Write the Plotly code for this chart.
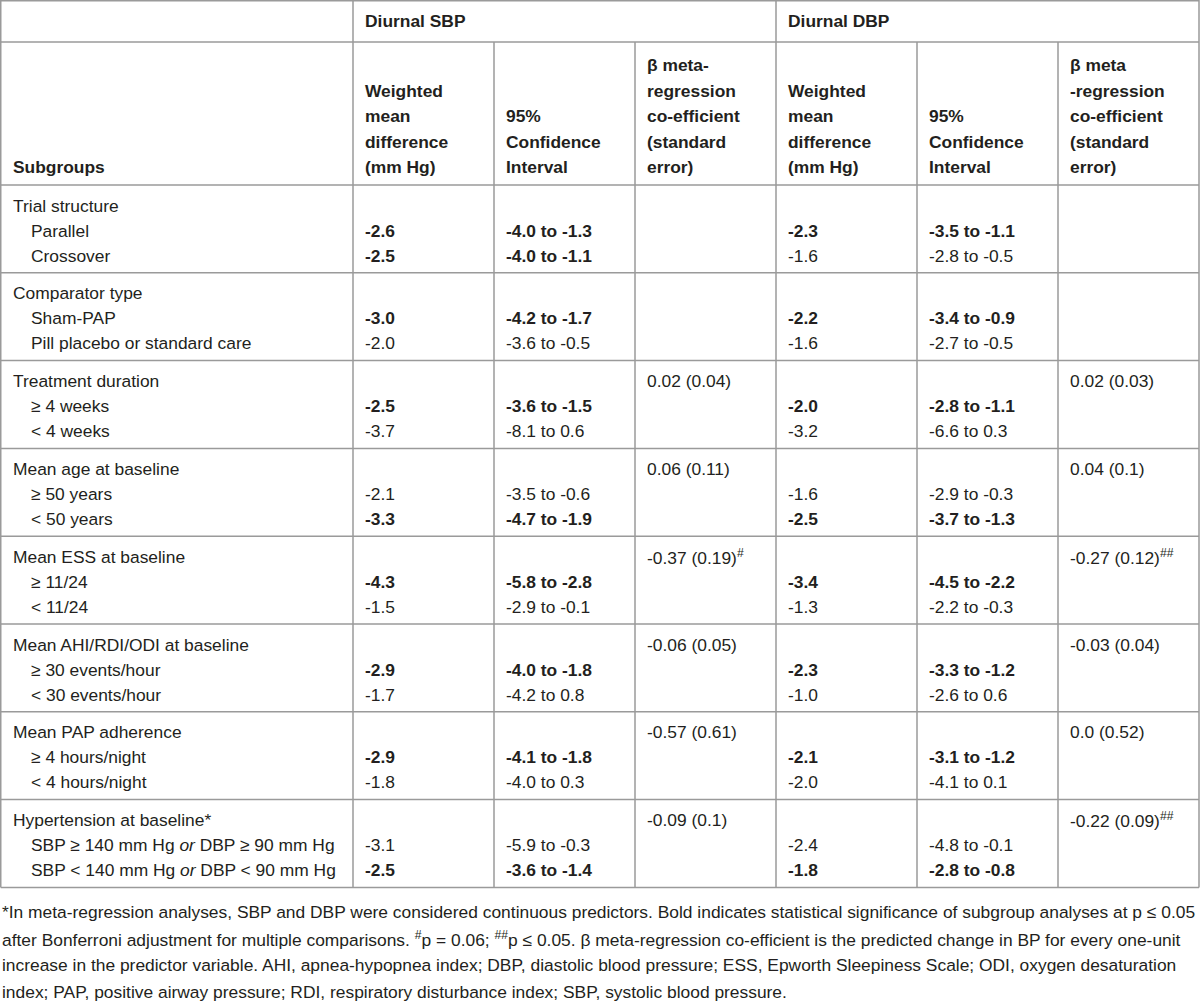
import plotly.graph_objects as go

# --- table data -------------------------------------------------------------
groups = ["Trial structure", "Comparator type", "Treatment duration",
          "Mean age at baseline", "Mean ESS at baseline",
          "Mean AHI/RDI/ODI at baseline", "Mean PAP adherence",
          "Hypertension at baseline*"]
subgroups = [
    ["Parallel", "Crossover"],
    ["Sham-PAP", "Pill placebo or standard care"],
    ["≥ 4 weeks", "&lt; 4 weeks"],
    ["≥ 50 years", "&lt; 50 years"],
    ["≥ 11/24", "&lt; 11/24"],
    ["≥ 30 events/hour", "&lt; 30 events/hour"],
    ["≥ 4 hours/night", "&lt; 4 hours/night"],
    ["SBP ≥ 140 mm Hg <i>or</i> DBP ≥ 90 mm Hg",
     "SBP &lt; 140 mm Hg <i>or</i> DBP &lt; 90 mm Hg"],
]

sbp_wmd = ["-2.6", "-2.5", "-3.0", "-2.0", "-2.5", "-3.7", "-2.1", "-3.3",
           "-4.3", "-1.5", "-2.9", "-1.7", "-2.9", "-1.8", "-3.1", "-2.5"]
sbp_ci = ["-4.0 to -1.3", "-4.0 to -1.1", "-4.2 to -1.7", "-3.6 to -0.5",
          "-3.6 to -1.5", "-8.1 to 0.6", "-3.5 to -0.6", "-4.7 to -1.9",
          "-5.8 to -2.8", "-2.9 to -0.1", "-4.0 to -1.8", "-4.2 to 0.8",
          "-4.1 to -1.8", "-4.0 to 0.3", "-5.9 to -0.3", "-3.6 to -1.4"]
sbp_bold = [1, 1, 1, 0, 1, 0, 0, 1, 1, 0, 1, 0, 1, 0, 0, 1]
sbp_beta = ["", "", "0.02 (0.04)", "0.06 (0.11)", "-0.37 (0.19)<sup>#</sup>",
            "-0.06 (0.05)", "-0.57 (0.61)", "-0.09 (0.1)"]

dbp_wmd = ["-2.3", "-1.6", "-2.2", "-1.6", "-2.0", "-3.2", "-1.6", "-2.5",
           "-3.4", "-1.3", "-2.3", "-1.0", "-2.1", "-2.0", "-2.4", "-1.8"]
dbp_ci = ["-3.5 to -1.1", "-2.8 to -0.5", "-3.4 to -0.9", "-2.7 to -0.5",
          "-2.8 to -1.1", "-6.6 to 0.3", "-2.9 to -0.3", "-3.7 to -1.3",
          "-4.5 to -2.2", "-2.2 to -0.3", "-3.3 to -1.2", "-2.6 to 0.6",
          "-3.1 to -1.2", "-4.1 to 0.1", "-4.8 to -0.1", "-2.8 to -0.8"]
dbp_bold = [1, 0, 1, 0, 1, 0, 0, 1, 1, 0, 1, 0, 1, 0, 0, 1]
dbp_beta = ["", "", "0.02 (0.03)", "0.04 (0.1)", "-0.27 (0.12)<sup>##</sup>",
            "-0.03 (0.04)", "0.0 (0.52)", "-0.22 (0.09)<sup>##</sup>"]

top_headers = ["Diurnal SBP", "Diurnal DBP"]
col_headers = [
    ["Subgroups"],
    ["Weighted", "mean", "difference", "(mm Hg)"],
    ["95%", "Confidence", "Interval"],
    ["β meta-", "regression", "co-efficient", "(standard", "error)"],
    ["Weighted", "mean", "difference", "(mm Hg)"],
    ["95%", "Confidence", "Interval"],
    ["β meta", "-regression", "co-efficient", "(standard", "error)"],
]

footnote = [
    "*In meta-regression analyses, SBP and DBP were considered continuous predictors. "
    "Bold indicates statistical significance of subgroup analyses at p ≤ 0.05",
    "after Bonferroni adjustment for multiple comparisons. <sup>#</sup>p = 0.06; "
    "<sup>##</sup>p ≤ 0.05. β meta-regression co-efficient is the predicted change in BP for every one-unit",
    "increase in the predictor variable. AHI, apnea-hypopnea index; DBP, diastolic blood "
    "pressure; ESS, Epworth Sleepiness Scale; ODI, oxygen desaturation",
    "index; PAP, positive airway pressure; RDI, respiratory disturbance index; SBP, "
    "systolic blood pressure.",
]

# --- layout geometry --------------------------------------------------------
W, H = 1200, 1004
col_x = [0.75, 353, 494, 635, 776, 917, 1058, 1199]
h1 = 42
h2 = 185
row_h = 87.8
line_h = 25
head_h = 25.5
pad = 10
indent = 28
bottom = h2 + row_h * len(groups)

FONT = "Liberation Sans, Arial, sans-serif"
SIZE = 17.4
TXT = "#231f20"
GRID = "#9a9a9a"

fig = go.Figure()
shapes = []
ann = []


def hline(y, x0=col_x[0], x1=col_x[-1]):
    shapes.append(dict(type="line", xref="x", yref="y", x0=x0, x1=x1, y0=y, y1=y,
                       line=dict(color=GRID, width=1.5)))


def vline(x, y0, y1):
    shapes.append(dict(type="line", xref="x", yref="y", x0=x, x1=x, y0=y0, y1=y1,
                       line=dict(color=GRID, width=1.5)))


def text(x, y, s, bold=False, size=SIZE):
    if not s:
        return  # empty cell
    if bold:
        s = "<b>" + s + "</b>"
    ann.append(dict(x=x, y=y, xref="x", yref="y", text=s, showarrow=False,
                    xanchor="left", yanchor="middle", align="left",
                    font=dict(family=FONT, size=size, color=TXT)))


# grid
hline(0.75)
hline(h1)
hline(h2)
for g in range(1, len(groups) + 1):
    hline(h2 + row_h * g)
vline(col_x[0], 0, bottom)
vline(col_x[-1], 0, bottom)
vline(col_x[1], 0, bottom)
vline(col_x[4], 0, bottom)
for c in (2, 3, 5, 6):
    vline(col_x[c], h1, bottom)

# headers
text(col_x[1] + pad, h1 / 2, top_headers[0], bold=True)
text(col_x[4] + pad, h1 / 2, top_headers[1], bold=True)
last_y = h2 - 18
for c, lines in enumerate(col_headers):
    for k, s in enumerate(lines):
        y = last_y - (len(lines) - 1 - k) * head_h
        text(col_x[c] + pad, y, s, bold=True)

# body
for g, name in enumerate(groups):
    y0 = h2 + row_h * g + 20.5
    text(col_x[0] + pad, y0, name)
    text(col_x[3] + pad, y0, sbp_beta[g])
    text(col_x[6] + pad, y0, dbp_beta[g])
    for k in range(2):
        i = g * 2 + k
        y = y0 + line_h * (k + 1)
        text(col_x[0] + indent, y, subgroups[g][k])
        text(col_x[1] + pad, y, sbp_wmd[i], bold=sbp_bold[i])
        text(col_x[2] + pad, y, sbp_ci[i], bold=sbp_bold[i])
        text(col_x[4] + pad, y, dbp_wmd[i], bold=dbp_bold[i])
        text(col_x[5] + pad, y, dbp_ci[i], bold=dbp_bold[i])

# footnote
for k, s in enumerate(footnote):
    text(0, bottom + 25 + k * 26.5, s)

fig.update_layout(
    width=W, height=H,
    margin=dict(l=0, r=0, t=0, b=0),
    paper_bgcolor="white", plot_bgcolor="white",
    xaxis=dict(range=[0, W], visible=False, fixedrange=True),
    yaxis=dict(range=[H, 0], visible=False, fixedrange=True),
    shapes=shapes, annotations=ann, showlegend=False,
)
fig.write_html("out.html", config={"displayModeBar": False},
               post_script="document.body.style.margin='0';")
